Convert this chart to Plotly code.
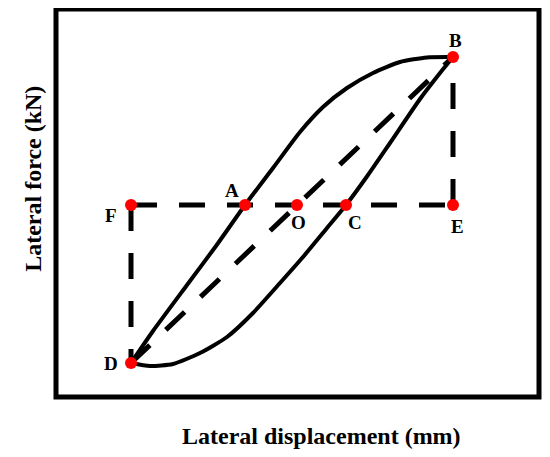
import plotly.graph_objects as go

# ── Data (displacement mm, force kN; O at origin) ─────────────────────────────
upper_x = [-41.5, -36.0, -27.5, -20.25, -13.0, -6.0, 0.75, 6.5, 12.5, 19.0, 25.75, 32.5, 39.0]
upper_y = [-39.5, -31.5, -20.0, -10.25, 0.0, 9.25, 18.25, 24.5, 29.25, 33.0, 35.75, 36.9, 37.0]

lower_x = [-41.5, -36.75, -31.0, -24.25, -17.5, -11.0, -4.25, 1.5, 7.5, 12.25, 17.75, 23.25, 30.75, 35.75, 39.0]
lower_y = [-39.5, -40.25, -39.75, -37.0, -33.0, -27.0, -19.5, -13.0, -5.75, 0.0, 7.5, 15.5, 26.5, 33.0, 37.0]

point_names = ["A", "B", "C", "D", "E", "F", "O"]
point_x     = [-13.0, 39.0, 12.25, -41.5, 39.0, -41.5, 0.0]
point_y     = [0.0, 37.0, 0.0, -39.5, 0.0, 0.0, 0.0]

BLACK = "#000000"
RED   = "#ff0000"
LABEL_FONT = dict(family="Liberation Serif", size=19, color=BLACK)
TITLE_FONT = dict(family="Liberation Serif", size=24, color=BLACK)
DASH = "26px,22px"

P = dict(zip(point_names, zip(point_x, point_y)))

fig = go.Figure()

# ── Hysteresis loop ───────────────────────────────────────────────────────────
for xs, ys in [(upper_x, upper_y), (lower_x, lower_y)]:
    fig.add_trace(go.Scatter(
        x=xs, y=ys, mode="lines",
        line=dict(color=BLACK, width=4, shape="spline", smoothing=0.6),
        hoverinfo="skip"
    ))

# ── Dashed reference lines ────────────────────────────────────────────────────
for a, b in [("F", "E"), ("F", "D"), ("E", "B"), ("D", "B")]:
    fig.add_trace(go.Scatter(
        x=[P[a][0], P[b][0]], y=[P[a][1], P[b][1]], mode="lines",
        line=dict(color=BLACK, width=5, dash=DASH),
        hoverinfo="skip"
    ))

# ── Key points ────────────────────────────────────────────────────────────────
fig.add_trace(go.Scatter(
    x=point_x, y=point_y, mode="markers",
    marker=dict(color=RED, size=12),
    text=point_names,
    hovertemplate="%{text}<extra></extra>"
))

label_shift = {
    "A": (-13, 15), "B": (2, 17), "C": (9, -17), "D": (-20, 0),
    "E": (4, -21), "F": (-20, -10), "O": (1, -17),
}
for name in point_names:
    dx, dy = label_shift[name]
    fig.add_annotation(
        x=P[name][0], y=P[name][1], text=f"<b>{name}</b>",
        showarrow=False, xshift=dx, yshift=dy, font=LABEL_FONT
    )

# ── Frame and axis titles ─────────────────────────────────────────────────────
fig.add_shape(type="rect", xref="paper", yref="paper", x0=0, x1=1, y0=0, y1=1,
              line=dict(color=BLACK, width=5))

fig.add_annotation(
    xref="paper", yref="paper", x=0.549, y=-0.139,
    text="<b>Lateral displacement (mm)</b>", showarrow=False, font=TITLE_FONT
)
fig.add_annotation(
    xref="paper", yref="paper", x=-0.079, y=0.562,
    text="<b>Lateral force (kN)</b>", showarrow=False, textangle=-90,
    font=TITLE_FONT
)

fig.update_xaxes(range=[-60.25, 60.5], showgrid=False, zeroline=False,
                 showticklabels=False, ticks="", fixedrange=True)
fig.update_yaxes(range=[-48, 49], showgrid=False, zeroline=False,
                 showticklabels=False, ticks="", fixedrange=True)

# page body adds an 8px margin, so the figure is sized and offset for it
fig.update_layout(
    width=534, height=441,
    plot_bgcolor="white",
    paper_bgcolor="white",
    showlegend=False,
    margin=dict(l=48, r=3, t=1, b=52)
)

fig.write_html("out.html")
